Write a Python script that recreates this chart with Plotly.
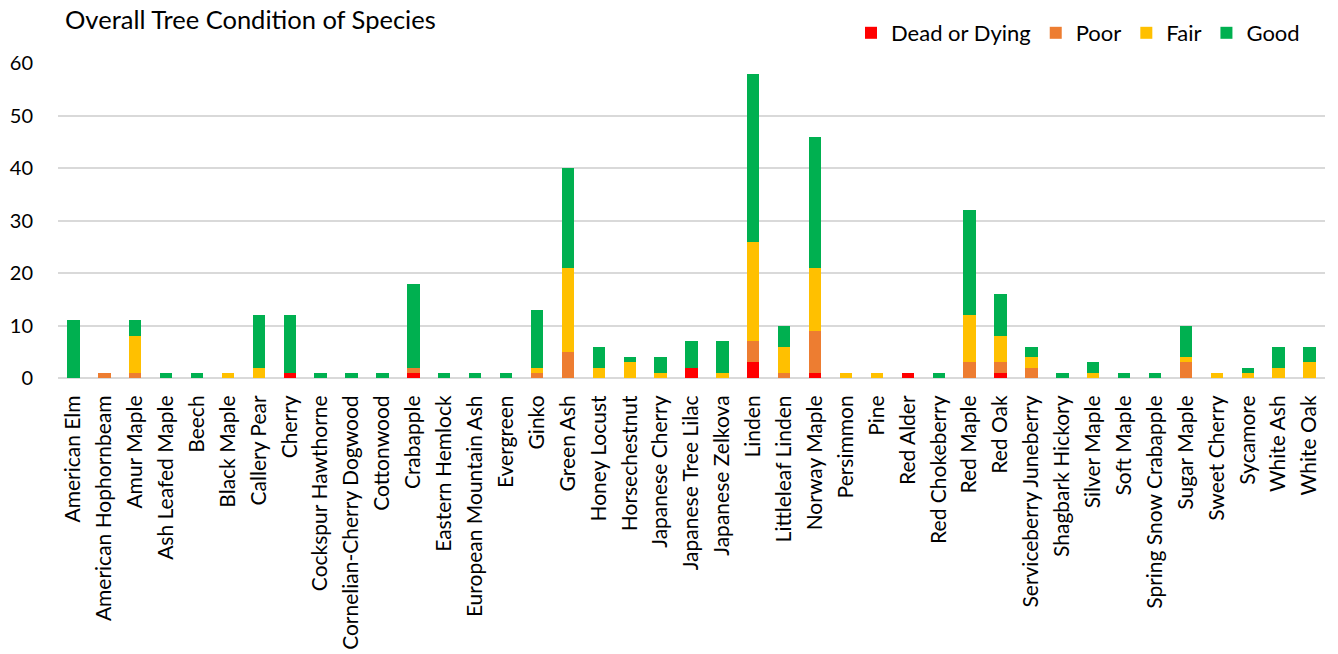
import plotly.graph_objects as go

species = ["American Elm", "American Hophornbeam", "Amur Maple", "Ash Leafed Maple", "Beech",
           "Black Maple", "Callery Pear", "Cherry", "Cockspur Hawthorne", "Cornelian-Cherry Dogwood",
           "Cottonwood", "Crabapple", "Eastern Hemlock", "European Mountain Ash", "Evergreen",
           "Ginko", "Green Ash", "Honey Locust", "Horsechestnut", "Japanese Cherry",
           "Japanese Tree Lilac", "Japanese Zelkova", "Linden", "Littleleaf Linden", "Norway Maple",
           "Persimmon", "Pine", "Red Alder", "Red Chokeberry", "Red Maple",
           "Red Oak", "Serviceberry Juneberry", "Shagbark Hickory", "Silver Maple", "Soft Maple",
           "Spring Snow Crabapple", "Sugar Maple", "Sweet Cherry", "Sycamore", "White Ash", "White Oak"]

dead = [0, 0, 0, 0, 0, 0, 0, 1, 0, 0, 0, 1, 0, 0, 0, 0, 0, 0, 0, 0, 2, 0, 3, 0, 1,
        0, 0, 1, 0, 0, 1, 0, 0, 0, 0, 0, 0, 0, 0, 0, 0]
poor = [0, 1, 1, 0, 0, 0, 0, 0, 0, 0, 0, 1, 0, 0, 0, 1, 5, 0, 0, 0, 0, 0, 4, 1, 8,
        0, 0, 0, 0, 3, 2, 2, 0, 0, 0, 0, 3, 0, 0, 0, 0]
fair = [0, 0, 7, 0, 0, 1, 2, 0, 0, 0, 0, 0, 0, 0, 0, 1, 16, 2, 3, 1, 0, 1, 19, 5, 12,
        1, 1, 0, 0, 9, 5, 2, 0, 1, 0, 0, 1, 1, 1, 2, 3]
good = [11, 0, 3, 1, 1, 0, 10, 11, 1, 1, 1, 16, 1, 1, 1, 11, 19, 4, 1, 3, 5, 6, 32, 4, 25,
        0, 0, 0, 1, 20, 8, 2, 1, 2, 1, 1, 6, 0, 1, 4, 3]

y_ticks = [0, 10, 20, 30, 40, 50, 60]

series = [("Dead or Dying", dead, "#FF0000"), ("Poor", poor, "#ED7D31"),
          ("Fair", fair, "#FFC000"), ("Good", good, "#00B050")]

FONT = "Lato, 'Open Sans', sans-serif"

fig = go.Figure()
for name, vals, color in series:
    fig.add_trace(go.Bar(x=species, y=vals, name=name, marker=dict(color=color, line=dict(width=0))))

fig.update_layout(
    barmode="stack",
    bargap=0.6,
    width=1338, height=654,
    margin=dict(l=50, r=21, t=55, b=284),
    plot_bgcolor="white", paper_bgcolor="white",
    font=dict(family=FONT, size=20, color="#000000"),
    title=dict(text="Overall Tree Condition of Species", x=57 / 1338, xanchor="left",
               y=1 - 12 / 654, yanchor="middle",
               font=dict(size=25.5, family=FONT, color="#000000")),
    legend=dict(orientation="h", xref="container", yref="container",
                x=1297 / 1338, xanchor="right", y=1 - 25 / 654, yanchor="middle",
                font=dict(size=22, family=FONT), traceorder="normal",
                itemsizing="constant", bgcolor="rgba(0,0,0,0)"),
    yaxis=dict(range=[0, 60], tickvals=y_ticks, showgrid=True, gridcolor="#D9D9D9", gridwidth=2,
               zeroline=True, zerolinecolor="#D9D9D9", zerolinewidth=2, showline=False,
               tickfont=dict(size=20), ticks="outside", ticklen=20,
               tickcolor="rgba(0,0,0,0)", automargin=False),
    xaxis=dict(tickangle=-90, tickfont=dict(size=21), showline=False, ticks="outside",
               ticklen=8, tickcolor="rgba(0,0,0,0)",
               showgrid=False, automargin=False),
)

fig.write_html("out.html")
